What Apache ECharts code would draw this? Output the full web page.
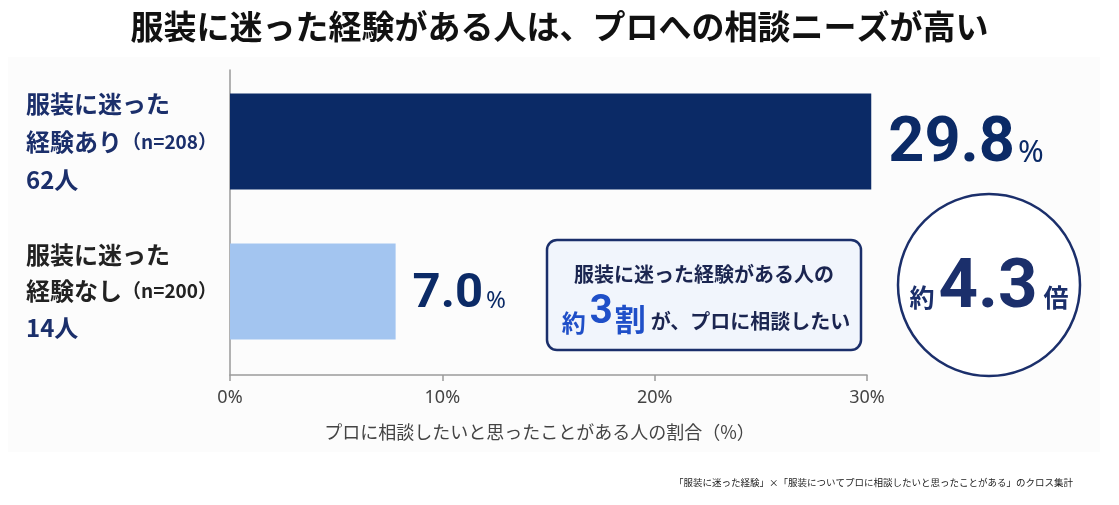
<!DOCTYPE html>
<html>
<head>
<meta charset="utf-8">
<script src="https://cdn.jsdelivr.net/npm/echarts@6/dist/echarts.min.js"></script>
<style>
html,body{margin:0;padding:0;background:#fff;}
#c{width:1119px;height:505px;}
</style>
</head>
<body>
<div id="c"></div>
<script>
// ---- data ----
const titleText = '服装に迷った経験がある人は、プロへの相談ニーズが高い';
const categories = ['服装に迷った経験あり', '服装に迷った経験なし'];
const catLine1 = ['服装に迷った', '服装に迷った'];
const catLine2 = ['経験あり', '経験なし'];
const sampleSizes = ['n=208', 'n=200'];
const counts = ['62人', '14人'];
const barValues = [30.2, 7.8];          // bar lengths as drawn in the picture
const valueTexts = ['29.8', '7.0'];     // printed value labels
const xTicks = [0, 10, 20, 30];
const axisTitle = 'プロに相談したいと思ったことがある人の割合（%）';
const calloutLine1 = '服装に迷った経験がある人の';
const calloutParts = ['約', '3', '割', 'が、プロに相談したい'];
const ratioParts = ['約', '4.3', '倍'];
const footnote = '「服装に迷った経験」×「服装についてプロに相談したいと思ったことがある」のクロス集計';

// ---- styles ----
const NAVY = '#0b2a66';
const LIGHT = '#a3c5f0';
const TXT_NAVY = '#1b2f6b';
const JP = '"Noto Sans CJK JP", "Noto Sans", sans-serif';
const NUM = 'Roboto, "Noto Sans", sans-serif';
const barColors = [NAVY, LIGHT];

const chart = echarts.init(document.getElementById('c'));

const option = {
  backgroundColor: '#ffffff',
  title: {
    text: titleText,
    left: 'center',
    top: 5,
    textStyle: { fontFamily: JP, fontSize: 33, fontWeight: 'bold', color: '#111' }
  },
  grid: [
    { left: 230, right: 252, top: 66.5, bottom: 138.5 },
    { left: 230, width: 1, top: 70, bottom: 130 }
  ],
  xAxis: [
    {
      type: 'value', gridIndex: 0, min: 0, max: 30, interval: 10,
      offset: 8.5,
      axisLine: { show: true, lineStyle: { color: '#9a9a9a', width: 1.5 } },
      axisTick: { show: true, length: 6, lineStyle: { color: '#9a9a9a', width: 1.5 } },
      splitLine: { show: false },
      axisLabel: {
        formatter: function (v) { return xTicks.indexOf(v) >= 0 ? v + '%' : ''; },
        fontSize: 18, color: '#444', margin: 14, fontFamily: '"Noto Sans", sans-serif'
      },
      name: axisTitle,
      nameLocation: 'middle',
      nameGap: 48,
      nameTextStyle: { fontFamily: JP, fontSize: 18, color: '#444', padding: [0, 18, 0, 0] }
    },
    { type: 'value', gridIndex: 1, show: false }
  ],
  yAxis: [
    {
      type: 'category', gridIndex: 0, inverse: true, data: categories,
      axisLine: { show: false },
      axisTick: { show: false },
      axisLabel: {
        align: 'left',
        margin: 204,
        formatter: function (v, i) {
          const c = i === 0 ? 'a' : 'b';
          return '{' + c + '|' + catLine1[i] + '}\n{' + c + '|' + catLine2[i] + '}{' + c + 'n|（' + sampleSizes[i] + '）}\n{cnt|' + counts[i] + '}';
        },
        rich: {
          a:   { fontFamily: JP, fontSize: 24, fontWeight: 'bold', color: TXT_NAVY, lineHeight: 38 },
          an:  { fontFamily: JP, fontSize: 19, fontWeight: 'bold', color: TXT_NAVY, lineHeight: 38 },
          b:   { fontFamily: JP, fontSize: 24, fontWeight: 'bold', color: '#222', lineHeight: 36 },
          bn:  { fontFamily: JP, fontSize: 19, fontWeight: 'bold', color: '#222', lineHeight: 36 },
          cnt: { fontFamily: JP, fontSize: 24, fontWeight: 'bold', color: TXT_NAVY, lineHeight: 38 }
        }
      }
    },
    {
      type: 'value', gridIndex: 1,
      axisLine: { show: true, lineStyle: { color: '#9a9a9a', width: 1.5 } },
      axisTick: { show: false }, axisLabel: { show: false }, splitLine: { show: false }
    }
  ],
  series: [
    {
      type: 'bar',
      xAxisIndex: 0, yAxisIndex: 0,
      data: barValues,
      barWidth: 96,
      clip: false,
      itemStyle: { color: function (p) { return barColors[p.dataIndex]; } },
      label: {
        show: true,
        position: 'right',
        distance: 17,
        formatter: function (p) {
          const k = p.dataIndex === 0 ? 'L' : 'S';
          return '{n' + k + '|' + valueTexts[p.dataIndex] + '}{p' + k + '|%}';
        },
        rich: {
          nL: { fontFamily: NUM, fontSize: 63, fontWeight: 'bold', color: NAVY, verticalAlign: 'bottom', lineHeight: 70 },
          pL: { fontFamily: '"Noto Sans", sans-serif', fontSize: 31, color: NAVY, verticalAlign: 'bottom', lineHeight: 70, padding: [0, 0, 8, 3] },
          nS: { fontFamily: NUM, fontSize: 49, fontWeight: 'bold', color: NAVY, verticalAlign: 'bottom', lineHeight: 56 },
          pS: { fontFamily: '"Noto Sans", sans-serif', fontSize: 24, color: NAVY, verticalAlign: 'bottom', lineHeight: 56, padding: [0, 0, 6, 3] }
        }
      }
    }
  ],
  graphic: [
    {
      type: 'rect', z: -10, silent: true,
      shape: { x: 8, y: 57, width: 1092, height: 395 },
      style: { fill: '#fcfcfc' }
    },
    {
      type: 'rect', z: 10,
      shape: { x: 547, y: 240, width: 314, height: 110, r: 10 },
      style: { fill: '#f1f5fc', stroke: TXT_NAVY, lineWidth: 2.5 }
    },
    {
      type: 'text', z: 11,
      x: 704, y: 274,
      style: {
        text: calloutLine1, fontFamily: JP, fontSize: 20, fontWeight: 'bold',
        fill: '#1b2550', align: 'center', verticalAlign: 'middle'
      }
    },
    {
      type: 'text', z: 11,
      x: 706, y: 313,
      style: {
        text: '{a|' + calloutParts[0] + '}{b|' + calloutParts[1] + '}{c|' + calloutParts[2] + '}{d|' + calloutParts[3] + '}',
        align: 'center', verticalAlign: 'middle',
        rich: {
          a: { fontFamily: JP, fontSize: 24, fontWeight: 'bold', fill: '#1f4fc8', verticalAlign: 'bottom', lineHeight: 44, padding: [0, 4, 0, 0] },
          b: { fontFamily: NUM, fontSize: 40, fontWeight: 'bold', fill: '#1f4fc8', verticalAlign: 'bottom', lineHeight: 44, padding: [0, 0, 2, 0] },
          c: { fontFamily: JP, fontSize: 31, fontWeight: 'bold', fill: '#1f4fc8', verticalAlign: 'bottom', lineHeight: 44, padding: [0, 5, 0, 2] },
          d: { fontFamily: JP, fontSize: 20, fontWeight: 'bold', fill: '#1b2550', verticalAlign: 'bottom', lineHeight: 44, padding: [0, 0, 4, 0] }
        }
      }
    },
    {
      type: 'circle', z: 10,
      shape: { cx: 989, cy: 285, r: 91 },
      style: { fill: '#ffffff', stroke: TXT_NAVY, lineWidth: 2.5 }
    },
    {
      type: 'text', z: 11,
      x: 989, y: 286,
      style: {
        text: '{a|' + ratioParts[0] + '}{b|' + ratioParts[1] + '}{c|' + ratioParts[2] + '}',
        align: 'center', verticalAlign: 'middle',
        rich: {
          a: { fontFamily: JP, fontSize: 25, fontWeight: 'bold', fill: TXT_NAVY, verticalAlign: 'bottom', lineHeight: 76, padding: [0, 4, 14, 0] },
          b: { fontFamily: NUM, fontSize: 69, fontWeight: 'bold', fill: TXT_NAVY, verticalAlign: 'bottom', lineHeight: 76 },
          c: { fontFamily: JP, fontSize: 25, fontWeight: 'bold', fill: TXT_NAVY, verticalAlign: 'bottom', lineHeight: 76, padding: [0, 0, 14, 6] }
        }
      }
    },
    {
      type: 'text', z: 11,
      x: 1073, y: 482,
      style: {
        text: footnote, fontFamily: JP, fontSize: 9.5,
        fill: '#222', align: 'right', verticalAlign: 'middle'
      }
    }
  ]
};

chart.setOption(option);
</script>
</body>
</html>
